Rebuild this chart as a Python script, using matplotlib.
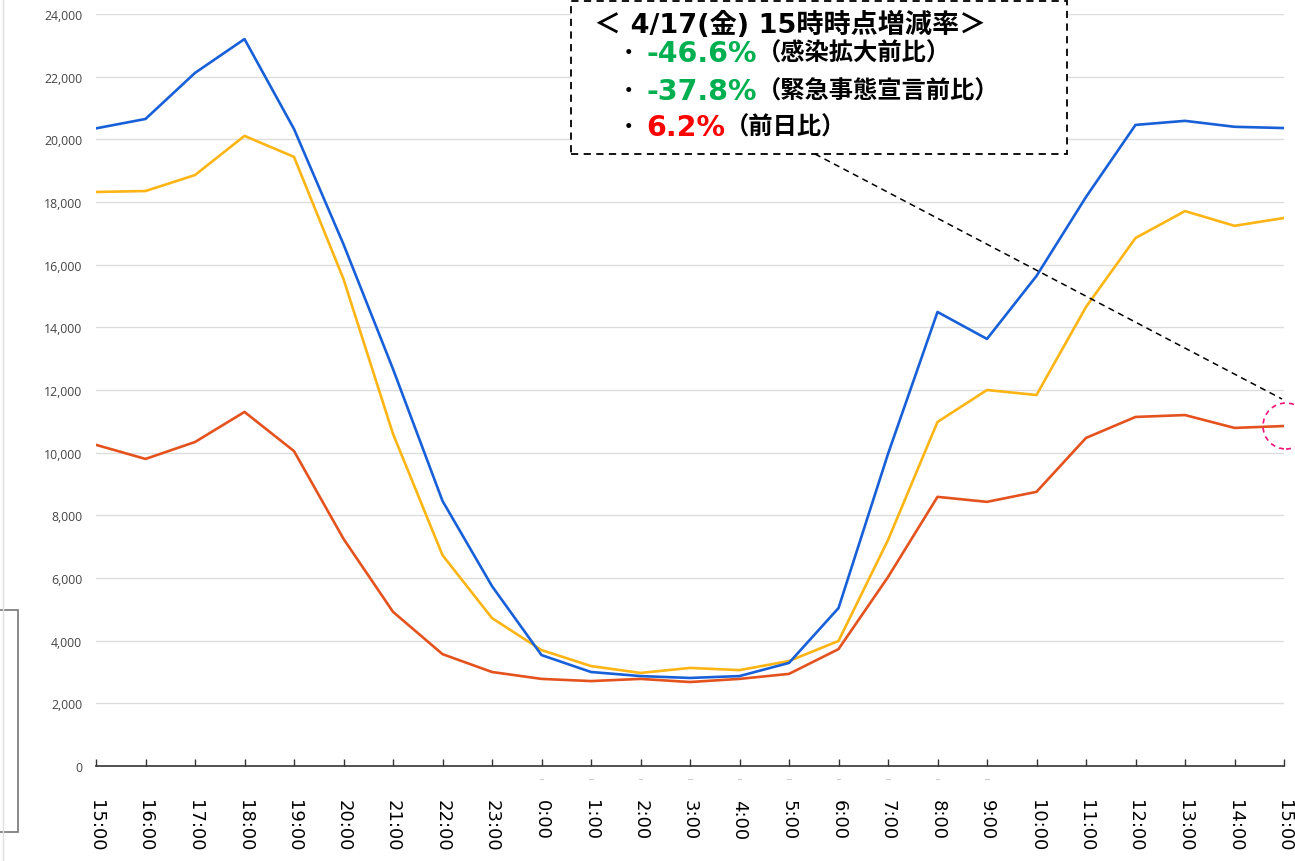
import matplotlib
matplotlib.use("Agg")
import matplotlib.pyplot as plt
from matplotlib.patches import Rectangle, Ellipse
from matplotlib.lines import Line2D

hours = ["15:00", "16:00", "17:00", "18:00", "19:00", "20:00", "21:00", "22:00", "23:00",
         "0:00", "1:00", "2:00", "3:00", "4:00", "5:00", "6:00", "7:00", "8:00", "9:00",
         "10:00", "11:00", "12:00", "13:00", "14:00", "15:00"]

blue = [20350, 20650, 22120, 23200, 20330, 16650, 12670, 8460, 5740,
        3540, 3000, 2870, 2810, 2870, 3290, 5040, 9960, 14490, 13630,
        15640, 18160, 20460, 20590, 20400, 20360]
yellow = [18320, 18350, 18860, 20110, 19440, 15540, 10600, 6730, 4720,
          3700, 3190, 2970, 3130, 3060, 3350, 3990, 7210, 10980, 12000,
          11840, 14650, 16850, 17710, 17240, 17490]
orange = [10250, 9800, 10340, 11300, 10050, 7250, 4920, 3570, 3000,
          2780, 2710, 2780, 2680, 2780, 2940, 3730, 6030, 8590, 8430,
          8750, 10470, 11140, 11200, 10790, 10850]

y_ticks = [0, 2000, 4000, 6000, 8000, 10000, 12000, 14000, 16000, 18000, 20000, 22000, 24000]

W, H = 1295, 862
fig = plt.figure(figsize=(W / 100, H / 100), dpi=100)
ax = fig.add_axes([96 / W, (H - 767) / H, (1284 - 96) / W, (767 - 15) / H])

x = list(range(len(hours)))
ax.plot(x, yellow, color="#FDB515", lw=1.9, zorder=3)
ax.plot(x, blue, color="#1860D8", lw=1.9, zorder=4)
ax.plot(x, orange, color="#E4521E", lw=1.9, zorder=2)

ax.set_xlim(0, len(hours) - 1)
ax.set_ylim(0, 24000)
ax.set_yticks(y_ticks)
ax.set_yticklabels([f"{v:,}" for v in y_ticks], color="#444444", fontsize=8.8,
                   family=["Open Sans", "DejaVu Sans"])
ax.tick_params(axis="y", length=0, pad=10)
ax.grid(axis="y", color="#dddddd", lw=1)
ax.set_axisbelow(True)
for s in ["top", "right", "left"]:
    ax.spines[s].set_visible(False)
ax.spines["bottom"].set_color("#333333")
ax.spines["bottom"].set_linewidth(1.2)
ax.set_xticks(x)
ax.set_xticklabels(hours, rotation=270, fontsize=13, color="black", va="top", ha="center")
ax.tick_params(axis="x", direction="in", length=5, width=1, color="#333333", pad=24)

# faint marks below the axis (0:00 - 9:00)
for i in range(9, 19):
    ax.plot([i - 0.04, i + 0.04], [-430, -430], color="#cccccc", lw=0.8, clip_on=False)

# left side decorations
fig.add_artist(Line2D([3 / W, 3 / W], [0, 1], transform=fig.transFigure, color="#e0e0e0", lw=1))
fig.add_artist(Rectangle((-2 / W, (H - 833) / H), 20 / W, (833 - 611) / H,
                         transform=fig.transFigure, fill=False, edgecolor="#777777", lw=1.2))

# annotation box
fig.add_artist(Rectangle((571 / W, (H - 155) / H), (1067 - 571) / W, 153 / H,
                         transform=fig.transFigure, fill=True, facecolor="white",
                         edgecolor="black", lw=1.3, ls=(0, (4, 3)), zorder=5))
fig.add_artist(Line2D([815 / W, 1282 / W], [(H - 155) / H, (H - 400) / H],
                      transform=fig.transFigure, color="black", lw=1.1, ls=(0, (4, 3)), zorder=5))
fig.add_artist(Ellipse((1286 / W, (H - 427) / H), 46 / W, 46 / H,
                       transform=fig.transFigure, fill=False, edgecolor="#F0147A",
                       lw=1.2, ls=(0, (3, 2.5)), zorder=6))

jp = ["Noto Sans CJK JP", "DejaVu Sans"]
lat = ["DejaVu Sans", "Noto Sans CJK JP"]
fig.text(594 / W, (H - 25) / H, "＜ 4/17(金) 15時時点増減率＞", fontsize=19.5, fontweight="bold",
         family=lat, va="center", ha="left", zorder=7)

lines = [("-46.6%", "#00B050", "（感染拡大前比）", 54),
         ("-37.8%", "#00B050", "（緊急事態宣言前比）", 92),
         ("6.2%", "#FF0000", "（前日比）", 128)]
fig.canvas.draw()
renderer = fig.canvas.get_renderer()
for pct, col, paren, yy in lines:
    fig.text(619 / W, (H - yy) / H, "・", fontsize=14, fontweight="bold", family=jp,
             va="center", ha="left", zorder=7)
    t = fig.text(646 / W, (H - yy) / H, pct, fontsize=20.5, fontweight="bold", color=col,
                 family=["DejaVu Sans"], va="center", ha="left", zorder=7)
    ext = t.get_window_extent(renderer)
    fig.text(ext.x1 / W, (H - yy) / H, paren, fontsize=17.5, fontweight="bold", family=jp,
             va="center", ha="left", zorder=7)

fig.savefig("out.png", dpi=100)
